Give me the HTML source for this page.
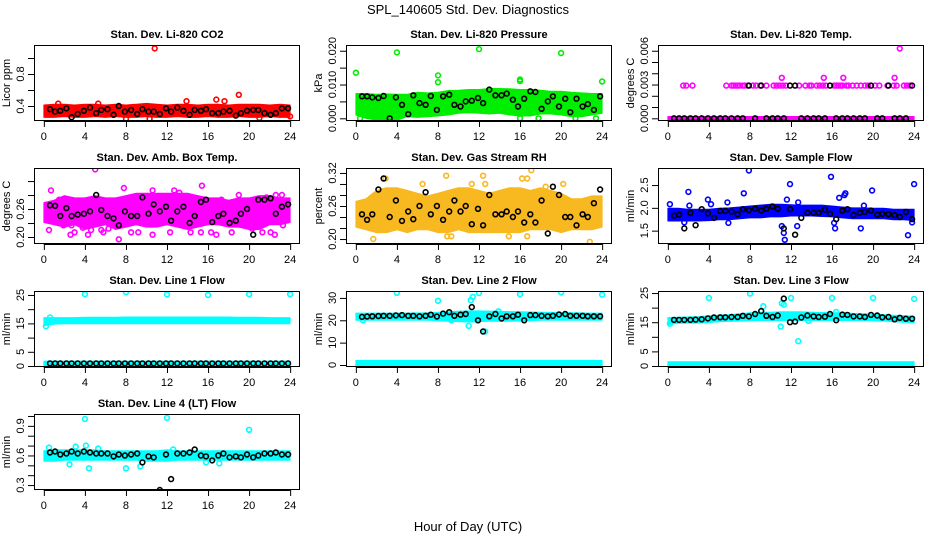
<!DOCTYPE html>
<html><head><meta charset="utf-8"><style>
html,body{margin:0;padding:0;background:#fff}
svg{display:block;font-family:"Liberation Sans",Arial,sans-serif}
</style></head><body>
<svg id="chart" width="936" height="540" viewBox="0 0 936 540">
<text x="468" y="14" text-anchor="middle" font-size="13">SPL_140605  Std. Dev. Diagnostics</text>
<text x="468" y="531" text-anchor="middle" font-size="13">Hour of Day (UTC)</text>
</svg>
<script>
const blackHours=[0.6,1.1,1.6,2.2,2.7,3.3,3.9,4.5,5.1,5.6,6.2,6.8,7.3,7.9,8.5,9.1,9.6,10.2,10.7,11.3,11.9,12.4,13,13.6,14.2,14.7,15.3,15.8,16.4,17,17.5,18.1,18.7,19.2,19.8,20.4,20.9,21.5,22.1,22.6,23.2,23.8];
const bandHours=[0,1,2,3,4,5,6,7,8,9,10,11,12,13,14,15,16,17,18,19,20,21,22,23,24];
const xTicks=[0,4,8,12,16,20,24];
const xTickLabels=["0","4","8","12","16","20","24"];

// Panel 1 CO2
const p1Lo=[0.28,0.28,0.29,0.28,0.28,0.29,0.28,0.29,0.28,0.28,0.29,0.28,0.28,0.29,0.28,0.28,0.29,0.28,0.28,0.29,0.28,0.28,0.29,0.28,0.28];
const p1Hi=[0.39,0.40,0.40,0.39,0.40,0.40,0.39,0.40,0.39,0.40,0.41,0.40,0.39,0.40,0.40,0.39,0.40,0.40,0.39,0.40,0.40,0.40,0.39,0.40,0.39];
const p1OutX=[10.8,19,16.8,17.6,13.9,8,10.3,21,24,1.4,5.3];
const p1OutY=[1.12,0.54,0.48,0.46,0.46,0.24,0.24,0.25,0.27,0.43,0.43];
const p1Black=[0.36,0.33,0.34,0.37,0.26,0.30,0.34,0.38,0.31,0.35,0.36,0.29,0.40,0.33,0.35,0.30,0.36,0.33,0.33,0.30,0.37,0.33,0.38,0.34,0.29,0.35,0.34,0.36,0.31,0.31,0.33,0.34,0.28,0.31,0.34,0.35,0.35,0.31,0.29,0.31,0.37,0.37];
const p1Ticks=[0.4,0.6,0.8,1.0];
const p1TickLabels=["0.4","","0.8",""];

// Panel 2 Pressure
const p2Lo=[0.0015,0.0005,0,0,0,0.001,0.0008,0.001,0.0012,0.0015,0.002,0.0022,0.002,0.0018,0.002,0.0015,0.0012,0.0012,0.0018,0.0018,0.0015,0.001,0.001,0.0015,0.002];
const p2Hi=[0.0068,0.0068,0.0066,0.0067,0.0066,0.0066,0.0072,0.007,0.0072,0.0077,0.0078,0.008,0.008,0.0083,0.0083,0.0082,0.008,0.008,0.0078,0.0075,0.0075,0.0072,0.007,0.0068,0.0068];
const p2OutX=[0,4,8,8,12,16,16,20,24,0.4,4,16,17.8,21.4,23.4];
const p2OutY=[0.0135,0.0195,0.0127,0.0107,0.0205,0.0115,0.011,0.0193,0.0109,0,0,0,0,0,0];
const p2Black=[0.0065,0.0065,0.0062,0.006,0.0066,0,0.0062,0.004,0.0012,0.0068,0.0045,0.004,0.0066,0.0025,0.0065,0.0070,0.004,0.0035,0.005,0.0052,0.006,0.0045,0.0085,0.0068,0.0068,0.0073,0.0055,0.0035,0.0058,0.008,0.0078,0.0028,0.005,0.0065,0.0035,0.0058,0.0018,0.0058,0.0035,0.0042,0.0025,0.0065];
const p2Ticks=[0,0.005,0.01,0.015,0.02];
const p2TickLabels=["0.000","","0.010","","0.020"];

// Panel 3 Li-820 Temp
const p3Lo=[0,0,0,0,0,0,0,0,0,0,0,0,0,0,0,0,0,0,0,0,0,0,0,0,0];
const p3Hi=[0,0,0,0,0,0,0,0,0,0,0,0,0,0,0,0,0,0,0,0,0,0,0,0,0];
const p3OutX=[1.5,1.8,2.4,5.7,6.2,6.4,6.6,6.8,7.0,7.3,7.5,7.8,8.3,8.6,9.0,9.6,10.3,10.6,10.9,11.2,11.5,12.8,13.4,13.8,14.0,14.5,14.8,15.1,15.4,16.2,16.4,16.6,16.8,17.0,17.4,17.6,18.0,18.4,18.8,19.2,19.5,20.2,20.6,21.4,22.0,22.3,23.0,23.3,23.6,11.1,15.2,17.1,22.1,22.6];
const p3OutY=[0.0029,0.0029,0.0029,0.0029,0.0029,0.0029,0.0029,0.0029,0.0029,0.0029,0.0029,0.0029,0.0029,0.0029,0.0029,0.0029,0.0029,0.0029,0.0029,0.0029,0.0029,0.0029,0.0029,0.0029,0.0029,0.0029,0.0029,0.0029,0.0029,0.0029,0.0029,0.0029,0.0029,0.0029,0.0029,0.0029,0.0029,0.0029,0.0029,0.0029,0.0029,0.0029,0.0029,0.0029,0.0029,0.0029,0.0029,0.0029,0.0029,0.0036,0.0036,0.0036,0.0036,0.0062];
const p3Black=[0,0,0,0,0,0,0,0,0,0,0,0,0,0.0029,0,0.0029,0,0,0,0,0.0029,0.0029,0,0,0,0,0,0.0029,0,0,0,0,0,0,0.0029,0,0,0.0029,0,0,0,0.0029];
const p3Ticks=[0,0.001,0.002,0.003,0.004,0.005,0.006];
const p3TickLabels=["0.000","","","0.003","","","0.006"];

// Panel 4 Amb Box Temp
const p4Lo=[0.235,0.23,0.225,0.23,0.22,0.225,0.23,0.22,0.225,0.23,0.225,0.225,0.23,0.225,0.22,0.225,0.23,0.23,0.225,0.225,0.22,0.22,0.23,0.23,0.235];
const p4Hi=[0.27,0.275,0.285,0.28,0.28,0.285,0.28,0.28,0.285,0.29,0.29,0.29,0.29,0.29,0.29,0.285,0.28,0.28,0.275,0.28,0.28,0.285,0.285,0.28,0.28];
const p4OutX=[0.4,0.7,0.5,1.5,1.9,2.3,2.7,2.6,3.0,3.8,4.3,5.0,4.6,5.6,5.8,6.3,7.3,7.8,8.5,9.2,10.6,10.6,11.4,12.3,12.7,13.2,14.3,15.4,15.3,16.3,16.8,17.3,18.3,19.0,19.5,20.3,21.3,21.7,22.1,22.6,22.5,23.3,23.8,23.2];
const p4OutY=[0.265,0.30,0.215,0.28,0.225,0.275,0.225,0.205,0.21,0.22,0.205,0.345,0.215,0.215,0.21,0.218,0.195,0.305,0.21,0.21,0.205,0.30,0.285,0.21,0.30,0.295,0.21,0.31,0.21,0.21,0.205,0.28,0.21,0.29,0.225,0.218,0.21,0.285,0.21,0.29,0.205,0.225,0.27,0.29];
const p4Black=[0.268,0.267,0.245,0.262,0.245,0.248,0.25,0.255,0.29,0.258,0.245,0.24,0.225,0.255,0.245,0.245,0.285,0.25,0.27,0.255,0.265,0.235,0.255,0.265,0.23,0.245,0.275,0.28,0.232,0.245,0.25,0.23,0.235,0.25,0.26,0.205,0.28,0.28,0.283,0.25,0.265,0.27];
const p4Ticks=[0.20,0.23,0.26,0.29,0.32];
const p4TickLabels=["0.20","","0.26","",""];

// Panel 5 Gas Stream RH
const p5Lo=[0.225,0.22,0.215,0.215,0.22,0.215,0.22,0.22,0.215,0.215,0.22,0.215,0.215,0.215,0.215,0.215,0.215,0.22,0.22,0.22,0.215,0.22,0.22,0.22,0.225];
const p5Hi=[0.265,0.27,0.285,0.29,0.29,0.285,0.28,0.275,0.28,0.285,0.29,0.29,0.285,0.28,0.285,0.29,0.29,0.285,0.29,0.285,0.28,0.27,0.27,0.275,0.275];
const p5OutX=[2.9,6.5,8.8,12.4,12.6,16.2,17.1,16.7,18.5,20.2,22.8,8.9,9.3,14.9,16.7,1.7,22.9,11.3];
const p5OutY=[0.31,0.30,0.315,0.315,0.30,0.31,0.325,0.31,0.295,0.30,0.195,0.205,0.205,0.205,0.205,0.20,0.27,0.30];
const p5Black=[0.245,0.235,0.245,0.29,0.31,0.24,0.27,0.233,0.25,0.236,0.26,0.285,0.245,0.26,0.235,0.25,0.27,0.25,0.26,0.227,0.255,0.225,0.28,0.245,0.245,0.25,0.24,0.25,0.23,0.245,0.23,0.27,0.21,0.295,0.28,0.24,0.24,0.225,0.245,0.24,0.265,0.29];
const p5Ticks=[0.20,0.22,0.24,0.26,0.28,0.30,0.32];
const p5TickLabels=["0.20","","","0.26","","","0.32"];

// Panel 6 Sample Flow
const p6Lo=[1.75,1.75,1.75,1.75,1.76,1.78,1.78,1.80,1.82,1.82,1.84,1.84,1.86,1.86,1.86,1.85,1.84,1.82,1.80,1.80,1.80,1.80,1.78,1.78,1.76];
const p6Hi=[1.95,1.95,1.93,1.93,1.93,1.95,1.96,1.98,2.00,2.02,2.04,2.04,2.03,2.02,2.02,2.02,2.00,1.98,1.96,1.96,1.95,1.95,1.93,1.93,1.93];
const p6OutX=[0.2,2.0,2.1,3.9,4.2,5.8,5.9,7.4,7.9,11.9,11.3,11.4,11.1,11.6,12.6,12.7,15.9,16.2,16.3,16.7,17.2,17.3,18.8,19.9,23.4,23.8,24.0,19.1,1.6];
const p6OutY=[2.08,2.35,2.05,2.18,2.08,2.12,1.67,2.32,2.82,2.52,1.45,1.30,1.60,2.18,1.60,2.12,2.68,1.67,1.55,2.22,2.28,2.32,1.55,2.38,1.40,1.68,2.52,2.05,1.68];
const p6Black=[1.83,1.85,1.55,1.89,1.62,1.97,1.88,1.78,1.93,1.93,1.92,1.86,1.97,1.95,1.98,1.94,1.98,2.03,1.98,1.55,1.97,1.41,1.78,1.89,1.89,1.89,1.96,1.87,1.75,1.94,1.97,1.84,1.89,1.91,1.94,1.85,1.87,1.86,1.84,1.80,1.91,1.75];
const p6Ticks=[1.5,2.0,2.5];
const p6TickLabels=["1.5","2.0","2.5"];

// Panel 7 Line 1 Flow
const p7Lo=[14.8,15.4,15.5,15.5,15.5,15.5,15.5,15.5,15.5,15.5,15.5,15.5,15.5,15.5,15.5,15.5,15.5,15.5,15.5,15.5,15.5,15.5,15.5,15.5,15.5];
const p7Hi=[16.4,16.4,16.4,16.4,16.5,16.5,16.5,16.5,16.6,16.6,16.6,16.6,16.6,16.6,16.6,16.6,16.6,16.6,16.6,16.5,16.5,16.5,16.4,16.4,16.4];
const p7Lo2=[0.7,0.7,0.7,0.7,0.7,0.7,0.7,0.7,0.7,0.7,0.7,0.7,0.7,0.7,0.7,0.7,0.7,0.7,0.7,0.7,0.7,0.7,0.7,0.7,0.7];
const p7Hi2=[1.1,1.1,1.1,1.1,1.1,1.1,1.1,1.1,1.1,1.1,1.1,1.1,1.1,1.1,1.1,1.1,1.1,1.1,1.1,1.1,1.1,1.1,1.1,1.1,1.1];
const p7OutX=[0.2,0.6,4,8,12,16,20,24];
const p7OutY=[14.0,17.1,25.3,26,25.2,25,25.3,25.3];
const p7Black=[0.9,0.9,0.9,0.9,0.9,0.9,0.9,0.9,0.9,0.9,0.9,0.9,0.9,0.9,0.9,0.9,0.9,0.9,0.9,0.9,0.9,0.9,0.9,0.9,0.9,0.9,0.9,0.9,0.9,0.9,0.9,0.9,0.9,0.9,0.9,0.9,0.9,0.9,0.9,0.9,0.9,0.9];
const p7Ticks=[0,5,10,15,20,25];
const p7TickLabels=["0","5","","15","","25"];

// Panel 8 Line 2 Flow
const p8Lo=[20.8,20.8,20.8,20.8,20.8,20.8,20.8,20.8,20.6,20.4,20.2,20,20.2,20.4,20.4,20.4,20.5,20.6,20.8,20.8,20.8,20.8,20.8,20.8,20.8];
const p8Hi=[22.4,22.4,22.4,22.4,22.4,22.4,22.5,22.6,22.8,23,23.2,23.4,23.4,23.3,23.2,23.1,23,22.9,22.8,22.7,22.6,22.6,22.5,22.4,22.4];
const p8Lo2=[0.3,0.3,0.3,0.3,0.3,0.3,0.3,0.3,0.3,0.3,0.3,0.3,0.3,0.3,0.3,0.3,0.3,0.3,0.3,0.3,0.3,0.3,0.3,0.3,0.3];
const p8Hi2=[1.2,1.2,1.2,1.2,1.2,1.2,1.2,1.2,1.2,1.2,1.2,1.2,1.2,1.2,1.2,1.2,1.2,1.2,1.2,1.2,1.2,1.2,1.2,1.2,1.2];
const p8OutX=[4,8,11.2,11.4,12,16,20,24,11,12.6,13.9,0.7,9.3];
const p8OutY=[32.3,28.7,29,30.5,32.2,31.7,32.5,31.5,17.5,15,24,20,20];
const p8Black=[21.5,21.7,21.8,21.9,22,22,22.2,22.3,22,22,21.8,22,22.5,21.7,23,23.6,22,22.5,22.8,25.9,20,15,21.8,22.8,20.8,21.8,21.8,22.5,20,22.3,22.3,22,21.8,22,22.6,22.8,22,22,22,21.8,21.8,21.8];
const p8Ticks=[0,10,20,30];
const p8TickLabels=["0","10","20","30"];

// Panel 9 Line 3 Flow
const p9Lo=[14.8,15.2,15.3,15.3,15.5,15.8,15.9,16,16.1,16.2,16.2,16.2,16.2,16.2,16.2,16.2,16.2,16.2,16.2,16.2,16.1,16,15.8,15.6,15.5];
const p9Hi=[16.0,16.1,16.2,16.3,16.6,16.8,17,17.3,17.6,17.8,17.8,18,18,18,17.8,17.7,17.6,17.6,17.4,17.3,17.2,17,16.8,16.6,16.4];
const p9Lo2=[0.2,0.2,0.2,0.2,0.2,0.2,0.2,0.2,0.2,0.2,0.2,0.2,0.2,0.2,0.2,0.2,0.2,0.2,0.2,0.2,0.2,0.2,0.2,0.2,0.2];
const p9Hi2=[0.8,0.8,0.8,0.8,0.8,0.8,0.8,0.8,0.8,0.8,0.8,0.8,0.8,0.8,0.8,0.8,0.8,0.8,0.8,0.8,0.8,0.8,0.8,0.8,0.8];
const p9OutX=[0.2,4,8,9.3,11.1,11.3,12,11,12.7,16,20,24,16.4,13.7];
const p9OutY=[14.5,23.3,24.8,20.5,21.5,21,23.3,13.5,8.5,23.3,23.3,23,18.5,15.5];
const p9Black=[15.8,15.8,15.8,15.8,15.9,16,16.3,16.6,16.7,16.7,16.8,16.8,17.2,17,17.8,18.8,17.2,16.8,17.3,23.1,15,15.2,16.6,17.3,17,16.8,16.9,17.8,15.7,17.6,17.5,17,17,16.8,17.5,17.3,16.7,16.8,16,16.5,16.2,16.2];
const p9Ticks=[0,5,10,15,20,25];
const p9TickLabels=["0","5","","15","","25"];

// Panel 10 Line 4 Flow
const p10Lo=[0.56,0.56,0.57,0.57,0.57,0.57,0.57,0.57,0.57,0.57,0.56,0.56,0.56,0.57,0.57,0.57,0.57,0.57,0.57,0.57,0.57,0.57,0.57,0.57,0.57];
const p10Hi=[0.63,0.64,0.64,0.64,0.64,0.64,0.63,0.63,0.63,0.63,0.63,0.63,0.64,0.63,0.63,0.63,0.63,0.63,0.63,0.63,0.63,0.63,0.63,0.63,0.63];
const p10OutX=[0.5,4,4.1,3.1,2.5,4.4,8,9.4,12,12.6,15.8,17.1,20,5.3,0.3];
const p10OutY=[0.68,0.97,0.70,0.69,0.51,0.47,0.47,0.49,0.98,0.66,0.53,0.52,0.86,0.67,0.57];
const p10Black=[0.63,0.64,0.61,0.62,0.64,0.62,0.64,0.63,0.62,0.62,0.62,0.59,0.61,0.60,0.61,0.62,0.53,0.59,0.58,0.25,0.61,0.36,0.62,0.62,0.63,0.66,0.60,0.59,0.55,0.60,0.62,0.58,0.59,0.58,0.61,0.58,0.60,0.62,0.62,0.63,0.61,0.61];
const p10Ticks=[0.3,0.4,0.5,0.6,0.7,0.8,0.9,1.0];
const p10TickLabels=["0.3","","","0.6","","","0.9",""];

const panels=[
 {key:"co2",title:"Stan. Dev. Li-820 CO2",ylab:"Licor ppm",col:0,row:0,ymin:0.2125,ymax:1.1625,color:"#ff0000",bands:[[p1Lo,p1Hi]],ox:p1OutX,oy:p1OutY,black:p1Black,ticks:p1Ticks,labels:p1TickLabels},
 {key:"pressure",title:"Stan. Dev. Li-820 Pressure",ylab:"kPa",col:1,row:0,ymin:-0.0008,ymax:0.0217,color:"#00ee00",bands:[[p2Lo,p2Hi]],ox:p2OutX,oy:p2OutY,black:p2Black,ticks:p2Ticks,labels:p2TickLabels},
 {key:"temp",title:"Stan. Dev. Li-820 Temp.",ylab:"degrees C",col:2,row:0,ymin:-0.00024,ymax:0.00651,color:"#ff00ff",bands:[[p3Lo,p3Hi]],ox:p3OutX,oy:p3OutY,black:p3Black,ticks:p3Ticks,labels:p3TickLabels},
 {key:"ambbox",title:"Stan. Dev. Amb. Box Temp.",ylab:"degrees C",col:0,row:1,ymin:0.185,ymax:0.348,color:"#ff00ff",bands:[[p4Lo,p4Hi]],ox:p4OutX,oy:p4OutY,black:p4Black,ticks:p4Ticks,labels:p4TickLabels},
 {key:"rh",title:"Stan. Dev. Gas Stream RH",ylab:"percent",col:1,row:1,ymin:0.191,ymax:0.329,color:"#f8b820",bands:[[p5Lo,p5Hi]],ox:p5OutX,oy:p5OutY,black:p5Black,ticks:p5Ticks,labels:p5TickLabels},
 {key:"sampleflow",title:"Stan. Dev. Sample Flow",ylab:"ml/min",col:2,row:1,ymin:1.207,ymax:2.874,color:"#0000ff",bands:[[p6Lo,p6Hi]],ox:p6OutX,oy:p6OutY,black:p6Black,ticks:p6Ticks,labels:p6TickLabels},
 {key:"line1",title:"Stan. Dev. Line 1 Flow",ylab:"ml/min",col:0,row:2,ymin:-0.35,ymax:26.4,color:"#00ffff",bands:[[p7Lo,p7Hi],[p7Lo2,p7Hi2]],ox:p7OutX,oy:p7OutY,black:p7Black,ticks:p7Ticks,labels:p7TickLabels},
 {key:"line2",title:"Stan. Dev. Line 2 Flow",ylab:"ml/min",col:1,row:2,ymin:-0.9,ymax:33.1,color:"#00ffff",bands:[[p8Lo,p8Hi],[p8Lo2,p8Hi2]],ox:p8OutX,oy:p8OutY,black:p8Black,ticks:p8Ticks,labels:p8TickLabels},
 {key:"line3",title:"Stan. Dev. Line 3 Flow",ylab:"ml/min",col:2,row:2,ymin:-0.35,ymax:25.7,color:"#00ffff",bands:[[p9Lo,p9Hi],[p9Lo2,p9Hi2]],ox:p9OutX,oy:p9OutY,black:p9Black,ticks:p9Ticks,labels:p9TickLabels},
 {key:"line4",title:"Stan. Dev. Line 4 (LT) Flow",ylab:"ml/min",col:0,row:3,ymin:0.25,ymax:1.02,color:"#00ffff",bands:[[p10Lo,p10Hi]],ox:p10OutX,oy:p10OutY,black:p10Black,ticks:p10Ticks,labels:p10TickLabels}
];

const NS="http://www.w3.org/2000/svg";
const svg=document.getElementById("chart");
function mk(tag,attrs,parent){const e=document.createElementNS(NS,tag);for(const k in attrs)e.setAttribute(k,attrs[k]);(parent||svg).appendChild(e);return e;}
const W=266,H=76,PAD=1.8;
panels.forEach(p=>{
  const L=34+312*p.col, T=45+123*p.row;
  const xs=v=>L+(v+0.96)/25.92*W;
  const ys=v=>T+H-(v-p.ymin)/(p.ymax-p.ymin)*H;
  const g=mk("g",{});
  
  
  const clipId="clip-"+p.key;
  const cp=mk("clipPath",{id:clipId},g);mk("rect",{x:L,y:T,width:W,height:H},cp);
  const plot=mk("g",{"clip-path":"url(#"+clipId+")"},g);
  p.bands.forEach((b,bi)=>{
    let d="";
    bandHours.forEach((h,i)=>{d+=(i?"L":"M")+xs(h).toFixed(1)+","+(ys(b[1][i])-PAD).toFixed(1);});
    for(let i=bandHours.length-1;i>=0;i--){d+="L"+xs(bandHours[i]).toFixed(1)+","+(ys(b[0][i])+PAD).toFixed(1);}
    const pa=mk("path",{d:d+"Z",fill:p.color,stroke:p.color,"stroke-width":1,"stroke-linejoin":"round"},plot);
    
    
  });
  p.ox.forEach((x,i)=>{
    const c=mk("circle",{cx:xs(x).toFixed(1),cy:ys(p.oy[i]).toFixed(1),r:2.4,fill:"none",stroke:p.color,"stroke-width":1.6},plot);
    
    
  });
  p.black.forEach((v,i)=>{
    const c=mk("circle",{cx:xs(blackHours[i]).toFixed(1),cy:ys(v).toFixed(1),r:2.4,fill:"none",stroke:"#000","stroke-width":1.6},plot);
    
    
  });
  const box=mk("rect",{x:L+0.5,y:T+0.5,width:W-1,height:H-1,fill:"none",stroke:"#000","stroke-width":1},g);
  
  
  const tt=mk("text",{x:L+W/2,y:T-7,"text-anchor":"middle","font-size":"11","font-weight":"bold"},g);
  tt.textContent=p.title;
  
  
  mk("line",{x1:xs(0),x2:xs(24),y1:T+H+0.5,y2:T+H+0.5,stroke:"#000"},g);
  xTicks.forEach((t,i)=>{
    mk("line",{x1:xs(t)+0.5,x2:xs(t)+0.5,y1:T+H,y2:T+H+6,stroke:"#000"},g);
    const tx=mk("text",{x:xs(t),y:T+H+19,"text-anchor":"middle","font-size":"11"},g);
    tx.textContent=xTickLabels[i];
    
    
  });
  mk("line",{x1:L+0.5,x2:L+0.5,y1:ys(p.ticks[0]),y2:ys(p.ticks[p.ticks.length-1]),stroke:"#000"},g);
  p.ticks.forEach((t,i)=>{
    const y=ys(t);
    mk("line",{x1:L-6,x2:L,y1:y+0.5,y2:y+0.5,stroke:"#000"},g);
    if(p.labels[i]){
      const ty=mk("text",{x:L-10,y:y,"text-anchor":"middle","font-size":"11",transform:"rotate(-90 "+(L-10)+" "+y+")"},g);
      ty.textContent=p.labels[i];
      
      
    }
  });
  const yl=mk("text",{x:L-24,y:T+H/2,"text-anchor":"middle","font-size":"11",transform:"rotate(-90 "+(L-24)+" "+(T+H/2)+")"},g);
  yl.textContent=p.ylab;
  
  
});
</script>
</body></html>
